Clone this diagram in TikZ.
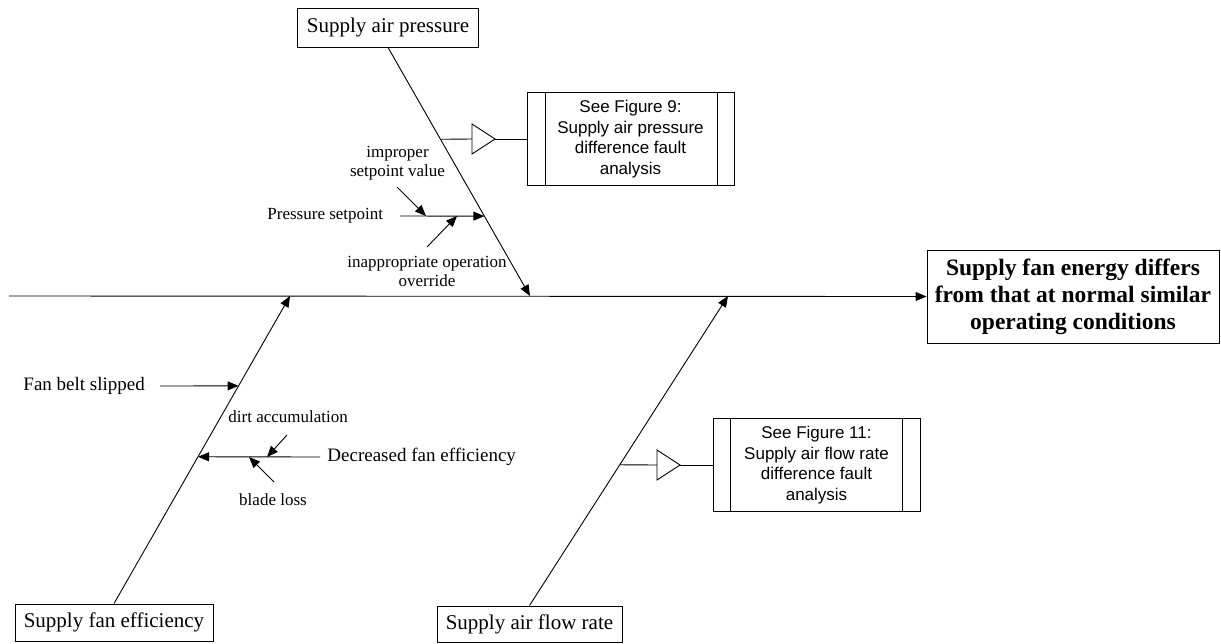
\documentclass[tikz,border=0pt]{standalone}
\usepackage{fontspec}
\setmainfont{Liberation Serif}
\newfontfamily\arialfont{Liberation Sans}
\usetikzlibrary{arrows.meta,calc}
\begin{document}
\begin{tikzpicture}[x=1pt,y=-1pt,
  line width=0.9pt,
  tip/.style={-{Triangle[length=11pt,width=9pt]}},
  causebox/.style={draw,inner sep=0pt,font=\fontsize{21}{24}\selectfont},
  cause/.style={inner sep=0pt,font=\fontsize{19}{22}\selectfont},
  subcause/.style={inner sep=0pt,align=center,font=\fontsize{17}{19}\selectfont},
  refbox/.style={draw,inner sep=0pt,minimum width=207pt,minimum height=93pt,
    align=center,font=\arialfont\fontsize{17}{20.5}\selectfont},
  effectbox/.style={draw,inner sep=0pt,minimum width=292pt,minimum height=93pt,
    align=center,font=\bfseries\fontsize{23.5}{27}\selectfont},
]
\useasboundingbox (0,0) rectangle (1221,643);

% main categories and the effect
\node[causebox,minimum width=181pt,minimum height=39pt] (sap) at (388,27.5) {Supply air pressure};
\node[causebox,minimum width=198pt,minimum height=37pt] (sfe) at (114,622.5) {Supply fan efficiency};
\node[causebox,minimum width=185pt,minimum height=36pt] (safr) at (529.5,624) {Supply air flow rate};
\node[effectbox] (effect) at (1073,296.5) {Supply fan energy differs\\from that at normal similar\\operating conditions};

% references to the detailed analyses
\node[refbox] (ref9) at (630.5,139) {See Figure 9:\\Supply air pressure\\difference fault\\analysis};
\node[refbox] (ref11) at (816.5,465) {See Figure 11:\\Supply air flow rate\\difference fault\\analysis};
\draw ([xshift=19pt]ref9.north west) -- ([xshift=19pt]ref9.south west);
\draw ([xshift=-17pt]ref9.north east) -- ([xshift=-17pt]ref9.south east);
\draw ([xshift=18pt]ref11.north west) -- ([xshift=18pt]ref11.south west);
\draw ([xshift=-18pt]ref11.north east) -- ([xshift=-18pt]ref11.south east);

% spine and bones
\coordinate (spineL) at (9,296);
\coordinate (tipP) at (530,296);
\coordinate (tipE) at (290,296);
\coordinate (tipF) at (728,296);
\draw[tip] (spineL) -- (effect.west);
\draw[tip] (sap.south) -- (tipP);
\draw[tip] (sfe.north) -- (tipE);
\draw[tip] (safr.north) -- (tipF);

% points on the bones
\coordinate (bP9) at ($(sap.south)!0.3695!(tipP)$);
\coordinate (bPs) at ($(sap.south)!0.6787!(tipP)$);
\coordinate (bEb) at ($(sfe.north)!0.7078!(tipE)$);
\coordinate (bEd) at ($(sfe.north)!0.4773!(tipE)$);
\coordinate (bF11) at ($(safr.north)!0.4548!(tipF)$);

% off-page connectors
\coordinate (t9) at (472,139);
\coordinate (t9tip) at (495,139);
\draw (bP9) -- (t9);
\draw (t9) -- ++(0,-15) -- (t9tip) -- ++(-23,15) -- cycle;
\draw (t9tip) -- (ref9.west);
\coordinate (t11) at (657,465);
\coordinate (t11tip) at (680,465);
\draw (bF11) -- (t11);
\draw (t11) -- ++(0,-15) -- (t11tip) -- ++(-23,15) -- cycle;
\draw (t11tip) -- (ref11.west);

% supply air pressure causes
\node[subcause,anchor=west] (ps) at (267,216) {Pressure setpoint};
\coordinate (psR) at (400,216);
\draw[tip] (psR) -- (bPs);
\node[subcause] (impL) at (397.5,163.5) {improper\\setpoint value};
\node[subcause] (inapL) at (427,271) {inappropriate operation\\override};
\coordinate (impS) at (397,187);
\coordinate (impT) at (426,216);
\coordinate (inapS) at (427,247);
\coordinate (inapT) at (457,216);
\draw[tip] (impS) -- (impT);
\draw[tip] (inapS) -- (inapT);

% supply fan efficiency causes
\node[cause,anchor=west] (fbs) at (23,386) {Fan belt slipped};
\coordinate (fbsR) at (160,386);
\draw[tip] (fbsR) -- (bEb);
\node[cause,anchor=west] (dfe) at (327,457) {Decreased fan efficiency};
\coordinate (dfeR) at (320,457);
\draw[tip] (dfeR) -- (bEd);
\node[subcause,anchor=west] (dirt) at (228,417) {dirt accumulation};
\node[subcause] (blade) at (273,500) {blade loss};
\coordinate (dirtS) at (287,435);
\coordinate (dirtT) at (267,457);
\coordinate (bladeS) at (274,482);
\coordinate (bladeT) at (249,457);
\draw[tip] (dirtS) -- (dirtT);
\draw[tip] (bladeS) -- (bladeT);
\end{tikzpicture}
\end{document}
